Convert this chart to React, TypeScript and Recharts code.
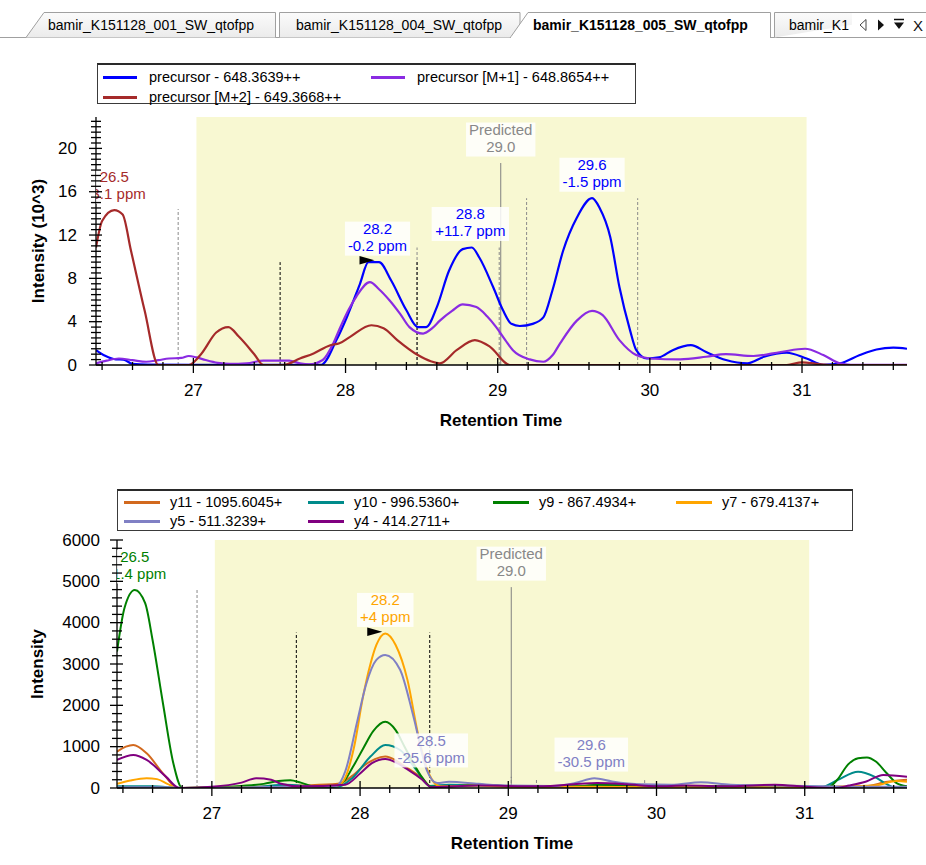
import React from 'react';
import { LineChart, Line, XAxis, YAxis, ReferenceArea, ReferenceLine, ReferenceDot } from 'recharts';

const FONT = '"Liberation Sans", Arial, Helvetica, sans-serif';

// ---------------- shared x axis ----------------
const X_MIN = 26.36;
const X_MAX = 31.69;
const xMajorTicks = [27, 28, 29, 30, 31];
const xAllTicks: number[] = [];
for (let i = 132; i <= 158; i++) xAllTicks.push(Math.round(i * 2) / 10);

const integrationStart = 27.02;
const integrationEnd = 31.03;
const predictedTime = 29.02;

const tabLabels = ['bamir_K151128_001_SW_qtofpp', 'bamir_K151128_004_SW_qtofpp', 'bamir_K151128_005_SW_qtofpp', 'bamir_K1'];

// ---------------- top chart (precursors, 10^3) ----------------
const precursorTimes = [26.36, 26.42, 26.49, 26.54, 26.6, 26.7, 27.0, 27.4, 27.84, 27.94, 28.01, 28.095, 28.15, 28.22, 28.3, 28.4, 28.475, 28.53, 28.6, 28.68, 28.77, 28.83, 28.88, 28.97, 29.035, 29.09, 29.145, 29.23, 29.3, 29.36, 29.43, 29.52, 29.62, 29.67, 29.74, 29.8, 29.87, 29.91, 29.98, 30.06, 30.15, 30.27, 30.37, 30.5, 30.64, 30.75, 30.9, 31.03, 31.14, 31.25, 31.38, 31.49, 31.6, 31.69];
const precursorValues = [1.37, 0.85, 0.52, 0.5, 0.1, 0.03, 0.02, 0.02, 0.02, 2.3, 4.46, 7.5, 9.5, 9.5, 7.8, 5.05, 3.5, 3.5, 5.35, 8.7, 10.7, 10.85, 9.9, 7.2, 5.05, 3.8, 3.6, 3.8, 4.4, 6.9, 10.55, 13.6, 15.4, 14.5, 11.8, 7.2, 3.2, 1.4, 0.6, 0.7, 1.37, 1.83, 1.2, 0.46, 0.15, 0.76, 1.13, 0.6, 0.02, 0.15, 0.92, 1.43, 1.6, 1.5];

const precursorM1Times = [26.36, 26.43, 26.51, 26.6, 26.69, 26.77, 26.84, 26.92, 26.97, 27.02, 27.08, 27.16, 27.24, 27.35, 27.46, 27.55, 27.63, 27.7, 27.76, 27.85, 27.92, 27.96, 28.02, 28.07, 28.16, 28.22, 28.29, 28.36, 28.42, 28.51, 28.57, 28.62, 28.7, 28.77, 28.86, 28.93, 28.99, 29.05, 29.1, 29.21, 29.3, 29.36, 29.41, 29.52, 29.62, 29.69, 29.8, 29.91, 30.0, 30.2, 30.37, 30.5, 30.68, 30.86, 31.02, 31.14, 31.25, 31.32, 31.69];
const precursorM1Values = [0.15, 0.4, 0.6, 0.45, 0.3, 0.45, 0.6, 0.65, 0.83, 0.7, 0.46, 0.2, 0.1, 0.15, 0.4, 0.4, 0.4, 0.15, 0.05, 0.46, 2.0, 3.3, 5.1, 6.3, 7.65, 7.0, 5.96, 4.7, 3.5, 2.9, 3.4, 4.1, 5.0, 5.6, 5.35, 4.5, 3.5, 2.3, 1.37, 0.52, 0.3, 0.9, 2.0, 4.1, 5.0, 4.6, 2.3, 0.92, 0.6, 0.52, 0.76, 1.0, 0.83, 1.2, 1.5, 0.92, 0.15, 0.02, 0.02];

const precursorM2Times = [26.36, 26.4, 26.48, 26.535, 26.59, 26.68, 26.77, 26.97, 27.05, 27.15, 27.23, 27.3, 27.4, 27.46, 27.59, 27.7, 27.79, 27.9, 27.96, 28.03, 28.17, 28.25, 28.34, 28.475, 28.56, 28.62, 28.73, 28.85, 28.95, 29.08, 30.9, 31.0, 31.1, 31.2, 31.69];
const precursorM2Values = [10.85, 13.3, 14.3, 13.9, 10.55, 5.0, 0, 0, 1.0, 3.0, 3.5, 2.6, 1.0, 0, 0, 0.6, 1.07, 1.83, 2.0, 2.6, 3.67, 3.4, 2.3, 0.92, 0.35, 0.15, 1.37, 2.3, 1.68, 0, 0, 0.25, 0.1, 0, 0];

const topSeriesNames = ['precursor - 648.3639++', 'precursor [M+1] - 648.8654++', 'precursor [M+2] - 649.3668++'];
const topSeriesColors = ['#0000ff', '#8a2be2', '#a52a2a'];
const topSeriesTimes = [precursorTimes, precursorM1Times, precursorM2Times];
const topSeriesValues = [precursorValues, precursorM1Values, precursorM2Values];

const TOP_Y_MAX = 22.9;
const topYLabels = [0, 4, 8, 12, 16, 20];
const topYTicks: number[] = [];
for (let i = 0; i <= 45; i++) topYTicks.push(i / 2);

const topBoundaryTimes = [26.9, 28.47, 29.01, 29.19, 29.92, 27.57, 28.47];
const topBoundaryHeights = [14.4, 10.85, 10.85, 15.4, 15.4, 9.5, 9.5];
const topBoundarySelected = [false, false, false, false, false, true, true];
const topPredictedHeight = 18.65;

const topPeakTimes = [26.48, 28.21, 28.82, 29.62];
const topPeakHeights = [14.3, 9.5, 10.85, 15.4];
const topPeakLabels = [['26.5', '+3.1 ppm'], ['28.2', '-0.2 ppm'], ['28.8', '+11.7 ppm'], ['29.6', '-1.5 ppm']];
const topPeakSeries = [2, 0, 0, 0];
const topSelectedPeak = 1;

// ---------------- bottom chart (fragments) ----------------
const y11Times = [26.36, 26.42, 26.47, 26.56, 26.67, 26.77, 27.0, 27.3, 27.6, 27.85, 27.95, 28.03, 28.1, 28.17, 28.25, 28.32, 28.42, 28.48, 28.6, 28.8, 29.0, 29.5, 30.0, 30.5, 31.0, 31.4, 31.56, 31.69];
const y11Values = [880, 1000, 1040, 840, 355, 0, 20, 30, 60, 100, 300, 550, 700, 760, 650, 480, 230, 30, 60, 80, 40, 30, 20, 30, 20, 40, 150, 200];

const y10Times = [26.36, 26.6, 26.8, 27.3, 27.5, 27.7, 27.85, 27.95, 28.07, 28.17, 28.27, 28.38, 28.47, 28.6, 29.0, 29.5, 29.7, 30.0, 30.5, 31.0, 31.12, 31.22, 31.36, 31.47, 31.55, 31.61, 31.69];
const y10Values = [40, 40, 0, 30, 80, 30, 30, 250, 760, 1040, 920, 435, 50, 80, 50, 40, 80, 60, 30, 40, 30, 190, 395, 275, 100, 10, 10];

const y9Times = [26.36, 26.41, 26.48, 26.55, 26.6, 26.67, 26.74, 26.8, 27.0, 27.2, 27.35, 27.45, 27.53, 27.6, 27.7, 27.8, 27.88, 27.95, 28.02, 28.09, 28.17, 28.24, 28.3, 28.36, 28.42, 28.48, 28.6, 28.8, 29.0, 29.2, 29.5, 29.6, 29.8, 30.0, 30.5, 30.8, 31.0, 31.15, 31.22, 31.29, 31.36, 31.42, 31.48, 31.55, 31.62, 31.69];
const y9Values = [3300, 4350, 4790, 4470, 3580, 2050, 600, 0, 10, 50, 100, 170, 190, 130, 30, 20, 120, 500, 950, 1380, 1600, 1400, 1000, 600, 250, 30, 40, 70, 40, 30, 50, 80, 60, 30, 40, 60, 30, 0, 200, 560, 720, 740, 640, 370, 120, 40];

const y7Times = [26.36, 26.45, 26.56, 26.63, 26.7, 26.77, 27.5, 27.85, 27.9, 27.96, 28.02, 28.07, 28.11, 28.17, 28.24, 28.32, 28.39, 28.44, 28.48, 28.54, 28.8, 29.0, 29.5, 30.0, 31.0, 31.47, 31.62, 31.69];
const y7Values = [100, 180, 235, 215, 100, 0, 20, 60, 250, 1000, 2210, 3000, 3460, 3740, 3460, 2610, 1320, 600, 235, 40, 60, 30, 30, 20, 20, 60, 170, 150];

const y5Times = [26.36, 26.7, 26.8, 27.5, 27.84, 27.9, 27.98, 28.04, 28.11, 28.17, 28.27, 28.36, 28.45, 28.52, 28.6, 28.8, 29.0, 29.3, 29.45, 29.58, 29.7, 29.9, 30.1, 30.3, 30.5, 30.8, 31.0, 31.3, 31.69];
const y5Values = [20, 20, 0, 30, 50, 400, 1600, 2500, 3100, 3220, 2860, 1730, 435, 120, 150, 100, 60, 50, 120, 235, 160, 90, 80, 140, 80, 60, 50, 30, 30];

const y4Times = [26.36, 26.47, 26.56, 26.69, 26.78, 27.0, 27.2, 27.3, 27.4, 27.46, 27.6, 27.9, 28.0, 28.08, 28.17, 28.25, 28.32, 28.42, 28.48, 28.8, 29.2, 29.6, 29.8, 30.0, 30.2, 30.5, 30.8, 31.0, 31.2, 31.3, 31.41, 31.53, 31.69];
const y4Values = [680, 800, 680, 275, 0, 30, 130, 235, 200, 110, 40, 80, 350, 600, 700, 600, 450, 200, 20, 60, 40, 120, 90, 40, 60, 40, 80, 30, 0, 60, 150, 315, 270];

const bottomSeriesNames = ['y11 - 1095.6045+', 'y10 - 996.5360+', 'y9 - 867.4934+', 'y7 - 679.4137+', 'y5 - 511.3239+', 'y4 - 414.2711+'];
const bottomSeriesColors = ['#d2691e', '#008b8b', '#008000', '#ffa500', '#8080c4', '#800080'];
const bottomSeriesTimes = [y11Times, y10Times, y9Times, y7Times, y5Times, y4Times];
const bottomSeriesValues = [y11Values, y10Values, y9Values, y7Values, y5Values, y4Values];

const BOTTOM_Y_MAX = 6000;
const bottomYLabels = [0, 1000, 2000, 3000, 4000, 5000, 6000];
const bottomYTicks: number[] = [];
for (let i = 0; i <= 30; i++) bottomYTicks.push(i * 200);

const bottomBoundaryTimes = [26.9, 29.02, 29.19, 29.92, 27.57, 28.47];
const bottomBoundaryHeights = [4790, 270, 240, 190, 3760, 3760];
const bottomBoundarySelected = [false, false, false, false, true, true];
const bottomPredictedHeight = 4860;

const bottomPeakTimes = [26.48, 28.17, 28.48, 29.56];
const bottomPeakHeights = [4790, 3740, 340, 240];
const bottomPeakLabels = [['26.5', '+1.4 ppm'], ['28.2', '+4 ppm'], ['28.5', '-25.6 ppm'], ['29.6', '-30.5 ppm']];
const bottomPeakSeries = [2, 3, 4, 4];
const bottomSelectedPeak = 1;

// ---------------- helpers ----------------
const CHAR_W: Record<string, number> = {
  '.': 0.278, ' ': 0.278, '-': 0.333, '+': 0.584, p: 0.556, m: 0.833, P: 0.667, r: 0.333,
  e: 0.556, d: 0.556, i: 0.222, c: 0.5, t: 0.278,
};
function textWidth(s: string, fs: number) {
  let w = 0;
  for (const ch of s) w += CHAR_W[ch] ?? 0.556;
  return w * fs;
}

function buildData(times: number[], values: number[]) {
  return times.map((t, i) => ({ t, v: values[i] }));
}

function PeakLabel(props: any) {
  const { cx, cy, lines, color, selected, clipPath } = props;
  if (cx == null || cy == null || isNaN(cx) || isNaN(cy)) return null;
  const fs = 15;
  const lh = 17;
  const gap = 6.5;
  const w = Math.max(...lines.map((l: string) => textWidth(l, fs))) + 6;
  const h = lines.length * lh;
  const top = cy - gap - h;
  return (
    <g clipPath={clipPath}>
      <rect x={cx - w / 2} y={top} width={w} height={h} fill="#ffffff" fillOpacity={0.85} />
      {lines.map((l: string, i: number) => (
        <text key={i} x={cx} y={top + 12.5 + i * lh} textAnchor="middle" fontSize={fs} fontFamily={FONT} fill={color}>
          {l}
        </text>
      ))}
      {selected && <path d={`M${cx - 18},${cy - 6} L${cx - 18},${cy + 2.5} L${cx - 3},${cy - 1.75} Z`} fill="#000" />}
    </g>
  );
}

function XTick(props: any) {
  const { x, y, payload } = props;
  const v = payload.value;
  const major = xMajorTicks.some((m) => Math.abs(m - v) < 1e-6);
  return (
    <g>
      <line x1={x} x2={x} y1={major ? y - 7 : y - 3} y2={major ? y + 8 : y + 5} stroke="#000" strokeWidth={1.3} />
      {major && (
        <text x={x} y={y + 25} textAnchor="middle" dominantBaseline="central" fontSize={17} fontFamily={FONT} fill="#000">
          {Math.round(v)}
        </text>
      )}
    </g>
  );
}

function makeYTick(labels: number[], gap: number) {
  return function YTick(props: any) {
    const { x, y, payload } = props;
    const v = payload.value;
    const major = labels.some((m) => Math.abs(m - v) < 1e-6);
    return (
      <g>
        <line x1={x - (major ? 7 : 5)} x2={x + (major ? 6 : 5)} y1={y} y2={y} stroke="#000" strokeWidth={1.3} />
        {major && (
          <text x={x - gap} y={y} textAnchor="end" dominantBaseline="central" fontSize={17} fontFamily={FONT} fill="#000">
            {v}
          </text>
        )}
      </g>
    );
  };
}

const TopYTick = makeYTick(topYLabels, 19);
const BottomYTick = makeYTick(bottomYLabels, 17);

function boundaryLines(times: number[], heights: number[], selected: boolean[], prefix: string) {
  const order = times.map((_, i) => i).sort((a, b) => Number(selected[a]) - Number(selected[b]));
  return order.map((i) => (
    <ReferenceLine
      key={`${prefix}-b-${i}`}
      segment={[{ x: times[i], y: 0 }, { x: times[i], y: heights[i] }]}
      stroke={selected[i] ? '#000000' : '#8a8a8a'}
      strokeWidth={1}
      strokeDasharray="3 2"
      ifOverflow="extendDomain"
    />
  ));
}

function Chart(props: {
  width: number; height: number; top: number; yAxisWidth: number; xAxisHeight: number;
  yMax: number; yTicks: number[]; YTick: any;
  names: string[]; colors: string[]; times: number[][]; values: number[][]; strokeWidth: number;
  bTimes: number[]; bHeights: number[]; bSel: boolean[]; predictedHeight: number;
  pTimes: number[]; pHeights: number[]; pLabels: string[][]; pSeries: number[]; pSelected: number; prefix: string;
}) {
  const p = props;
  return (
    <LineChart width={p.width} height={p.height} margin={{ top: p.top, right: 19, bottom: 0, left: 0 }}>
      <XAxis
        type="number"
        dataKey="t"
        domain={[X_MIN, X_MAX]}
        allowDataOverflow
        ticks={xAllTicks}
        interval={0}
        tick={<XTick />}
        tickLine={false}
        tickSize={0}
        tickMargin={0}
        height={p.xAxisHeight}
        axisLine={{ stroke: '#000', strokeWidth: 1.3 }}
      />
      <YAxis
        type="number"
        domain={[0, p.yMax]}
        allowDataOverflow
        ticks={p.yTicks}
        interval={0}
        tick={<p.YTick />}
        tickLine={false}
        tickSize={0}
        tickMargin={0}
        width={p.yAxisWidth}
        axisLine={{ stroke: '#000', strokeWidth: 1.3 }}
      />
      <ReferenceArea x1={integrationStart} x2={integrationEnd} fill="#f8f8d2" fillOpacity={1} stroke="none" />
      {boundaryLines(p.bTimes, p.bHeights, p.bSel, p.prefix)}
      <ReferenceLine
        segment={[{ x: predictedTime, y: 0 }, { x: predictedTime, y: p.predictedHeight }]}
        stroke="#808080"
        strokeWidth={1}
      />
      {p.names.map((n, i) => (
        <Line
          key={n}
          name={n}
          data={buildData(p.times[i], p.values[i])}
          dataKey="v"
          type="monotone"
          stroke={p.colors[i]}
          strokeWidth={p.strokeWidth}
          dot={false}
          activeDot={false}
          isAnimationActive={false}
        />
      ))}
      <ReferenceDot
        x={predictedTime}
        y={p.predictedHeight}
        r={0}
        ifOverflow="hidden"
        shape={(sp: any) => <PeakLabel {...sp} lines={['Predicted', predictedTime.toFixed(1)]} color="#888888" selected={false} />}
      />
      {p.pTimes.map((t, i) => (
        <ReferenceDot
          key={`${p.prefix}-pk-${i}`}
          x={t}
          y={p.pHeights[i]}
          r={0}
          ifOverflow="hidden"
          shape={(sp: any) => (
            <PeakLabel {...sp} lines={p.pLabels[i]} color={p.colors[p.pSeries[i]]} selected={i === p.pSelected} />
          )}
        />
      ))}
    </LineChart>
  );
}

function LegendBox(props: {
  left: number; top: number; width: number; height: number;
  names: string[]; colors: string[]; cols: number[]; rows: number[]; perRow: number; swatch: number;
}) {
  const p = props;
  return (
    <div
      style={{
        position: 'absolute', left: p.left, top: p.top, width: p.width, height: p.height, boxSizing: 'border-box',
        border: '1px solid #3a3a3a', borderTop: '2px solid #2a2a2a', background: '#fff',
      }}
    >
      {p.names.map((n, i) => {
        const c = i % p.perRow;
        const r = Math.floor(i / p.perRow);
        return (
          <div key={n} style={{ position: 'absolute', left: p.cols[c], top: p.rows[r] - 9, height: 18, display: 'flex', alignItems: 'center' }}>
            <div style={{ width: p.swatch, height: 3, background: p.colors[i] }} />
            <span style={{ marginLeft: 46 - p.swatch, fontSize: 14.5, fontFamily: FONT, color: '#000', whiteSpace: 'nowrap', lineHeight: '18px' }}>{n}</span>
          </div>
        );
      })}
    </div>
  );
}

function TabBar() {
  const tabText = (s: string, x: number, bold: boolean) => (
    <text x={x} y={25} dominantBaseline="central" fontSize={14} fontFamily={FONT} fontWeight={bold ? 'bold' : 'normal'} fill="#000">
      {s}
    </text>
  );
  return (
    <svg width={926} height={40} style={{ position: 'absolute', left: 0, top: 0 }}>
      <defs>
        <linearGradient id="tabg" x1="0" y1="0" x2="0" y2="1">
          <stop offset="0" stopColor="#fbfbfb" />
          <stop offset="1" stopColor="#ebebeb" />
        </linearGradient>
      </defs>
      <rect x={0} y={0} width={926} height={40} fill="#ffffff" />
      <line x1={0} y1={37.5} x2={926} y2={37.5} stroke="#a0a0a0" />
      <path d="M26,37.5 L44,12.5 L275.5,12.5 L275.5,37.5" fill="url(#tabg)" stroke="#a0a0a0" />
      {tabText(tabLabels[0], 48, false)}
      <path d="M279.5,37.5 L279.5,12.5 L520,12.5 L520,37.5" fill="url(#tabg)" stroke="#a0a0a0" />
      {tabText(tabLabels[1], 296, false)}
      <path d="M774.5,37.5 L774.5,12.5 L926,12.5" fill="url(#tabg)" stroke="#a0a0a0" />
      {tabText(tabLabels[3], 789, false)}
      <path d="M510,38 L528,12.5 L770.5,12.5 L770.5,38" fill="#ffffff" stroke="#a0a0a0" />
      <line x1={511} y1={37.5} x2={770} y2={37.5} stroke="#ffffff" strokeWidth={1.5} />
      {tabText(tabLabels[2], 533, true)}
      <rect x={852} y={13} width={74} height={24} fill="#ffffff" />
      <path d="M866,19.5 L860,25 L866,30.5 Z" fill="#ffffff" stroke="#444" strokeWidth={1} />
      <path d="M878,19.5 L884,25 L878,30.5 Z" fill="#111" />
      <line x1={894} y1={19.5} x2={904} y2={19.5} stroke="#111" strokeWidth={1.5} />
      <path d="M894,22.5 L904,22.5 L899,29 Z" fill="#111" />
      <text x={918} y={25} dominantBaseline="central" textAnchor="middle" fontSize={15} fontFamily={FONT} fill="#111">X</text>
    </svg>
  );
}

export default function App() {
  return (
    <div style={{ position: 'absolute', left: 0, top: 0, width: 926, height: 865, background: '#fff', overflow: 'hidden', fontFamily: FONT }}>
      <TabBar />
      <svg width={926} height={865} style={{ position: 'absolute', left: 0, top: 0 }}>
        <text x={38} y={241} transform="rotate(-90 38 241)" textAnchor="middle" dominantBaseline="central" fontSize={17} fontWeight="bold" fontFamily={FONT}>
          Intensity (10^3)
        </text>
        <text x={501} y={420} textAnchor="middle" dominantBaseline="central" fontSize={17} fontWeight="bold" fontFamily={FONT}>
          Retention Time
        </text>
        <text x={37} y={664} transform="rotate(-90 37 664)" textAnchor="middle" dominantBaseline="central" fontSize={17} fontWeight="bold" fontFamily={FONT}>
          Intensity
        </text>
        <text x={512} y={843} textAnchor="middle" dominantBaseline="central" fontSize={17} fontWeight="bold" fontFamily={FONT}>
          Retention Time
        </text>
      </svg>
      <div style={{ position: 'absolute', left: 0, top: 40 }}>
        <Chart
          width={926} height={400} top={77} yAxisWidth={96} xAxisHeight={75}
          yMax={TOP_Y_MAX} yTicks={topYTicks} YTick={TopYTick}
          names={topSeriesNames} colors={topSeriesColors} times={topSeriesTimes} values={topSeriesValues} strokeWidth={2.2}
          bTimes={topBoundaryTimes} bHeights={topBoundaryHeights} bSel={topBoundarySelected} predictedHeight={topPredictedHeight}
          pTimes={topPeakTimes} pHeights={topPeakHeights} pLabels={topPeakLabels} pSeries={topPeakSeries} pSelected={topSelectedPeak}
          prefix="top"
        />
      </div>
      <div style={{ position: 'absolute', left: 0, top: 440 }}>
        <Chart
          width={926} height={420} top={100} yAxisWidth={117} xAxisHeight={72}
          yMax={BOTTOM_Y_MAX} yTicks={bottomYTicks} YTick={BottomYTick}
          names={bottomSeriesNames} colors={bottomSeriesColors} times={bottomSeriesTimes} values={bottomSeriesValues} strokeWidth={2}
          bTimes={bottomBoundaryTimes} bHeights={bottomBoundaryHeights} bSel={bottomBoundarySelected} predictedHeight={bottomPredictedHeight}
          pTimes={bottomPeakTimes} pHeights={bottomPeakHeights} pLabels={bottomPeakLabels} pSeries={bottomPeakSeries} pSelected={bottomSelectedPeak}
          prefix="bot"
        />
      </div>
      <LegendBox
        left={97} top={63} width={539} height={41}
        names={topSeriesNames} colors={topSeriesColors}
        cols={[5, 273]} rows={[12, 32]} perRow={2} swatch={34}
      />
      <LegendBox
        left={117} top={489} width={736} height={42}
        names={bottomSeriesNames} colors={bottomSeriesColors}
        cols={[6, 190, 375, 558]} rows={[11, 30]} perRow={4} swatch={36}
      />
    </div>
  );
}
